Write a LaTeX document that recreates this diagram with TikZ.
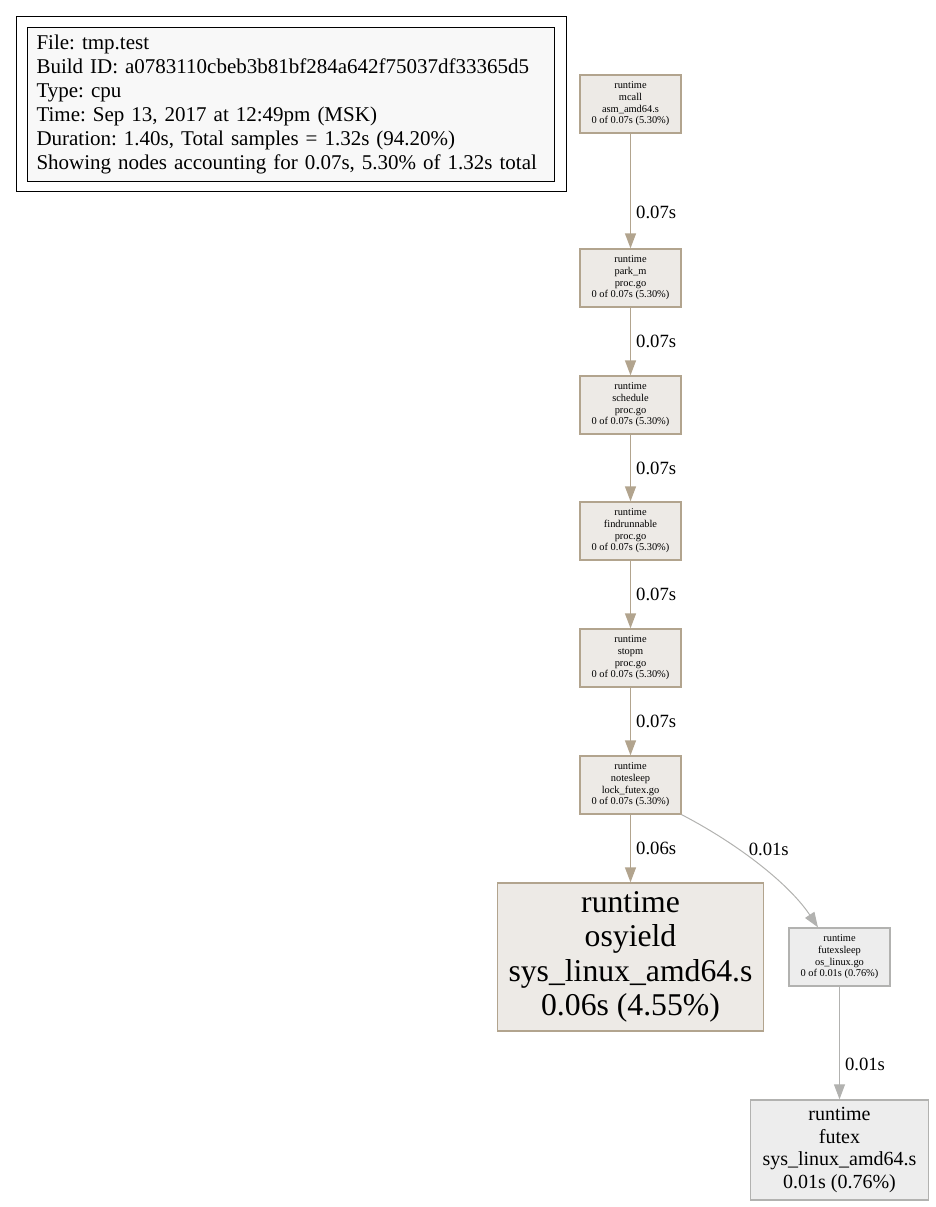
\documentclass[tikz,border=0pt]{standalone}
\usepackage{fontspec}
\setmainfont{Liberation Serif}
\usetikzlibrary{arrows.meta}
\frenchspacing

\definecolor{tanline}{HTML}{B2A48E}
\definecolor{tanfill}{HTML}{EDEAE6}
\definecolor{greyline}{HTML}{B2B2B0}
\definecolor{greyfill}{HTML}{EDEDED}
\definecolor{legendfill}{HTML}{F8F8F8}

\tikzset{
    fn/.style={draw=tanline, fill=tanfill, line width=1.3pt, align=center, inner sep=0pt,
        minimum width=101pt, minimum height=58pt, font=\fontsize{10.4}{11.7}\selectfont},
    greyfn/.style={fn, draw=greyline, fill=greyfill},
    legendbox/.style={draw=black, fill=legendfill, line width=0.8pt, align=left, text width=508pt,
        inner xsep=9.5pt, inner ysep=0pt, minimum height=154pt, font=\fontsize{21}{24}\selectfont},
    tanedge/.style={draw=tanline, line width=1.3pt, -{Triangle[length=15pt, width=11pt]}},
    greyedge/.style={draw=greyline, line width=1pt, -{Triangle[length=15pt, width=11pt]}},
    lbl/.style={right=5pt, inner sep=0pt, font=\fontsize{18.7}{22}\selectfont}
}

\begin{document}
\begin{tikzpicture}[x=1pt, y=-1pt]
    \useasboundingbox (0,0) rectangle (935,1207);
    
    \node[draw, line width=0.8pt, minimum width=550pt, minimum height=175pt, inner sep=0pt] (frame) at (291,103.5) {};
    \node[legendbox] (v0) at (290.5,104) {File: tmp.test\\Build ID: a0783110cbeb3b81bf284a642f75037df33365d5\\Type: cpu\\Time: Sep 13, 2017 at 12:49pm (MSK)\\Duration: 1.40s, Total samples = 1.32s (94.20\%)\\Showing nodes accounting for 0.07s, 5.30\% of 1.32s total};
    
    \node[fn] (v1) at (630.5,104) {runtime\\mcall\\asm\_amd64.s\\0 of 0.07s (5.30\%)};
    \node[fn] (v2) at (630.5,278) {runtime\\park\_m\\proc.go\\0 of 0.07s (5.30\%)};
    \node[fn] (v3) at (630.5,405) {runtime\\schedule\\proc.go\\0 of 0.07s (5.30\%)};
    \node[fn] (v4) at (630.5,531) {runtime\\findrunnable\\proc.go\\0 of 0.07s (5.30\%)};
    \node[fn] (v5) at (630.5,658) {runtime\\stopm\\proc.go\\0 of 0.07s (5.30\%)};
    \node[fn] (v6) at (630.5,785) {runtime\\notesleep\\lock\_futex.go\\0 of 0.07s (5.30\%)};
    \node[fn, minimum width=266pt, minimum height=148pt, font=\fontsize{31.7}{34.5}\selectfont] (v7) at (630.5,957) {runtime\\osyield\\sys\_linux\_amd64.s\\0.06s (4.55\%)};
    \node[greyfn] (v8) at (839.5,957) {runtime\\futexsleep\\os\_linux.go\\0 of 0.01s (0.76\%)};
    \node[greyfn, minimum width=178pt, minimum height=100pt, font=\fontsize{20}{22.5}\selectfont] (v9) at (839.5,1150) {runtime\\futex\\sys\_linux\_amd64.s\\0.01s (0.76\%)};
    
    \draw[tanedge] (v1) -- node[lbl, pos=0.69] {0.07s} (v2);
    \draw[tanedge] (v2) -- node[lbl] {0.07s} (v3);
    \draw[tanedge] (v3) -- node[lbl] {0.07s} (v4);
    \draw[tanedge] (v4) -- node[lbl] {0.07s} (v5);
    \draw[tanedge] (v5) -- node[lbl] {0.07s} (v6);
    \draw[tanedge] (v6) -- node[lbl] {0.06s} (v7);
    \draw[greyedge] (v6.south east) .. controls (740,845) and (790,885) .. node[lbl, pos=0.35, right=4pt] {0.01s} (v8.126.6);
    \draw[greyedge] (v8) -- node[lbl, pos=0.69] {0.01s} (v9);
\end{tikzpicture}
\end{document}
